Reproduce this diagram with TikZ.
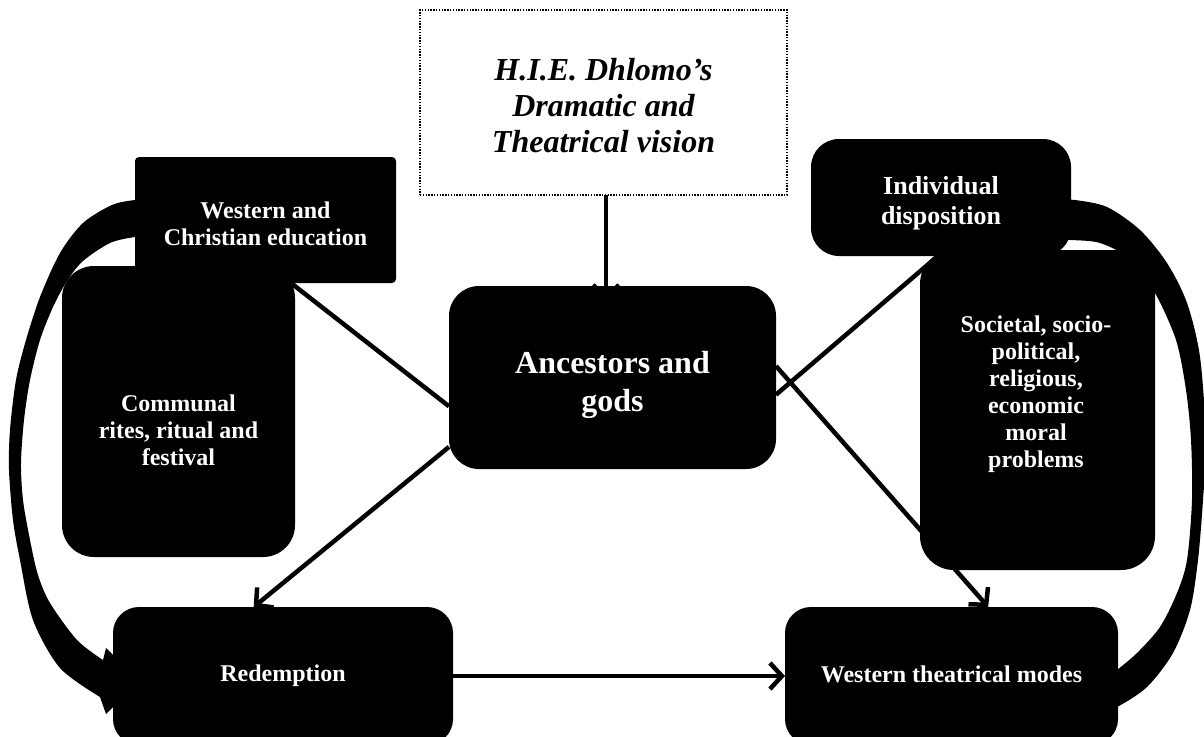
\documentclass[tikz,border=0pt]{standalone}
\usepackage{fontspec}
\setmainfont{Liberation Serif}
\usetikzlibrary{arrows.meta}
\pgfdeclarelayer{bg}
\pgfsetlayers{bg,main}
\begin{document}
\begin{tikzpicture}[x=1pt,y=-1pt,
  box/.style={fill=black, draw=none, inner sep=0pt, outer sep=0pt, rounded corners=#1},
  box/.default=28pt,
  lbl/.style={text=white, align=center, inner sep=0pt, font=\bfseries\fontsize{24}{27}\selectfont},
  conn/.style={line width=4.5pt, -{Straight Barb[length=12pt,width=26pt]}},
  plainline/.style={line width=4.5pt},
  band/.style={fill=black}
]
\useasboundingbox (0,0) rectangle (1204,736);

% boxes
\node[draw, line width=1.4pt, dash pattern=on 1.4pt off 1.4pt, fill=white, minimum width=367pt, minimum height=185pt,
  inner sep=0pt, outer sep=0pt] (top) at (603.5,102.5) {};
\node[align=center, inner sep=0pt, font=\bfseries\itshape\fontsize{32}{36}\selectfont]
  (topT) at (603.5,105.5) {H.I.E. Dhlomo’s\\Dramatic and\\Theatrical vision};
\node[box=32pt, minimum width=233pt, minimum height=291pt] (comm) at (178.5,411.5) {};
\node[box=4pt, minimum width=261pt, minimum height=126pt] (wce) at (265.5,220) {};
\node[lbl] (wceT) at (265.5,224) {Western and\\Christian education};
\node[lbl] (commT) at (178.5,430) {Communal\\rites, ritual and\\festival};
\node[box=30pt, minimum width=327pt, minimum height=183pt] (anc) at (612.5,377.5) {};
\node[lbl, font=\bfseries\fontsize{32}{38}\selectfont] (ancT) at (612.5,384.5) {Ancestors and\\gods};
\node[box=34pt, minimum width=235pt, minimum height=320pt] (soc) at (1037.5,410) {};
\node[box=28pt, minimum width=260pt, minimum height=117pt] (ind) at (941,197.5) {};
\node[lbl, font=\bfseries\fontsize{26}{30}\selectfont] (indT) at (941,203) {Individual\\disposition};
\node[lbl] (socT) at (1036,394) {Societal, socio-\\political,\\religious,\\economic\\moral\\problems};
\node[box=26pt, minimum width=340pt, minimum height=138pt] (red) at (283,676) {};
\node[lbl] (redT) at (283,676) {Redemption};
\node[box=26pt, minimum width=333pt, minimum height=138pt] (wtm) at (951.5,676) {};
\node[lbl] (wtmT) at (951.5,674) {Western theatrical modes};

\begin{pgfonlayer}{bg}
% left curved band arrow (Western and Christian education -> Redemption)
\fill[band] plot[smooth] coordinates {(150,200) (135,200) (112,205) (83,223) (60,253) (40,297) (26,340) (16,380) (10,430) (9,470) (13,520) (20,560) (33,620) (60,668) (100,697)}
  -- (106,714) -- (140,681) -- (106,648) --
  plot[smooth] coordinates {(103,660) (77,640) (50,603) (38,575) (30,540) (23,500) (21,463) (24,420) (30,380) (40,340) (53,307) (67,281) (83,261) (110,243) (135,237) (150,237)} -- cycle;
% right curved band (Individual disposition <-> Western theatrical modes)
\fill[band] plot[smooth] coordinates {(1060,200) (1075,200) (1107,207) (1140,230) (1167,263) (1187,303) (1200,357) (1206,440) (1203,500) (1198,560) (1190,610) (1173,653) (1147,687) (1117,707) (1100,712)}
  -- (1100,672) --
  plot[smooth] coordinates {(1117,670) (1137,653) (1160,627) (1177,593) (1187,560) (1192,500) (1191,440) (1186,390) (1176,340) (1155,293) (1130,259) (1100,243) (1071,240) (1060,240)} -- cycle;
% connectors
\draw[conn, shorten >=-14pt] ([xshift=2.5pt]top.south) -- ([xshift=-6.5pt]anc.north);
\draw[plainline] (wce.-68.7) -- (anc.-170.5);
\draw[plainline] (ind.-93.9) -- (anc.-6.1);
\draw[conn] (anc.4) -- (wtm.62.1);
\draw[conn] (anc.-157.6) -- (red.113.5);
\draw[conn] (red) -- (wtm);
\end{pgfonlayer}
\end{tikzpicture}
\end{document}
